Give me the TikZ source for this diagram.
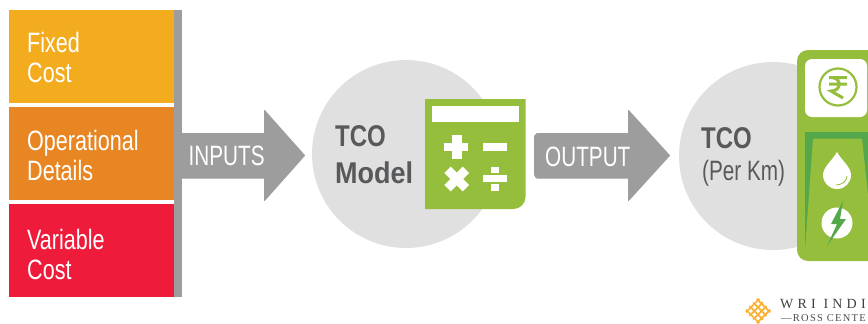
\documentclass[tikz,border=0pt]{standalone}
\usepackage{fontspec}
\setmainfont{Liberation Sans}
\newfontfamily\condf[FakeStretch=0.77]{Liberation Sans}
\newfontfamily\capsf[FakeStretch=0.74]{Liberation Sans}
\newfontfamily\boldf[FakeStretch=0.8]{Liberation Sans Bold}
\newfontfamily\boldwidef[FakeStretch=0.9]{Liberation Sans Bold}
\newfontfamily\logof[LetterSpace=30]{Liberation Serif}
\newfontfamily\logosubf[LetterSpace=12]{Liberation Serif}
\definecolor{fixc}{HTML}{F2AC1D}
\definecolor{opc}{HTML}{E88623}
\definecolor{varc}{HTML}{EE1B3B}
\definecolor{barc}{HTML}{9D9D9D}
\definecolor{circc}{HTML}{E0E0E0}
\definecolor{greenc}{HTML}{95BE3D}
\definecolor{dgreenc}{HTML}{54A84B}
\definecolor{txtc}{HTML}{58595B}
\definecolor{logoc}{HTML}{F9B233}
\tikzset{
  lab/.style={anchor=base west,inner sep=0pt,text=white,font=\condf\fontsize{28}{30}\selectfont},
  caplab/.style={anchor=base west,inner sep=0pt,text=white,font=\capsf\fontsize{28}{30}\selectfont},
  dark/.style={anchor=base west,inner sep=0pt,text=txtc,font=\boldf\fontsize{30}{32}\selectfont},
  darkwide/.style={anchor=base west,inner sep=0pt,text=txtc,font=\boldwidef\fontsize{30}{32}\selectfont},
  darkreg/.style={anchor=base west,inner sep=0pt,text=txtc,font=\capsf\fontsize{28}{30}\selectfont},
  blockarrow/.style={fill=barc,draw=barc,line width=1pt,line join=round},
  sym/.style={fill=white,draw=none},
  logoline/.style={draw=logoc,line width=1.7pt}
}
\begin{document}
\begin{tikzpicture}[x=1pt,y=-1pt]
\useasboundingbox (0,0) rectangle (868,324);
% left boxes
\fill[fixc] (8.5,10) rectangle (174,103);
\fill[opc] (8.5,107) rectangle (174,200);
\fill[varc] (8.5,204) rectangle (174,297);
\fill[barc] (174,10) rectangle (181.5,297);
\node[lab] (fixedA) at (27,52) {Fixed};
\node[lab] (fixedB) at (27,82) {Cost};
\node[lab] (opA) at (27,150) {Operational};
\node[lab] (opB) at (27,180) {Details};
\node[lab] (varA) at (27,249) {Variable};
\node[lab] (varB) at (27,279) {Cost};
% input arrow
\draw[blockarrow] (181.5,133.5) -- (264.5,133.5) -- (264.5,110.5) -- (304.5,155.5) -- (264.5,200.5) -- (264.5,178) -- (181.5,178) -- cycle;
\node[caplab] (inputs) at (188.5,165) {INPUTS};
% model circle
\fill[circc] (406,154) circle (94);
\fill[greenc] (425,99) -- (525.5,99) -- (525.5,197) arc[start angle=0,end angle=90,radius=12] -- (425,209) -- cycle;
\fill[white] (432,105.5) rectangle (518.5,122);
\fill[sym] (444,142.7) rectangle (468,150.7);
\fill[sym] (452,135) rectangle (461.5,158.7);
\fill[sym] (483,143) rectangle (506.5,150.5);
\begin{scope}[shift={(456.7,179)},rotate=45]
\fill[sym] (-13,-4.5) rectangle (13,4.5);
\fill[sym] (-4.5,-13) rectangle (4.5,13);
\end{scope}
\fill[sym] (483,175) rectangle (506.5,182);
\fill[sym] (491,166.5) rectangle (499,173);
\fill[sym] (491,184) rectangle (499,191);
\node[dark] (tcoA) at (335,146) {TCO};
\node[darkwide] (model) at (335,183) {Model};
% output arrow
\draw[blockarrow] (537,133.5) -- (628.5,133.5) -- (628.5,110.5) -- (669.5,155.5) -- (628.5,200.5) -- (628.5,178) -- (537,178) to[out=180,in=90] (534.5,175) -- (534.5,136) to[out=-90,in=180] cycle;
\node[caplab] (output) at (545,166) {OUTPUT};
% result circle
\fill[circc] (773,156) circle (94);
\node[dark] (tcoB) at (701,148) {TCO};
\node[darkreg] (perkm) at (702,180) {(Per Km)};
% pump
\begin{scope}
\clip (0,0) rectangle (868,324);
\fill[greenc,rounded corners=11pt] (797,50) rectangle (890,261);
\fill[white,rounded corners=7pt] (805,59) rectangle (867,117);
\fill[dgreenc] (805,132) rectangle (868,250);
\fill[greenc] (813,138.5) -- (862,138.5) -- (868,195) -- (868,250) -- (805,250) -- cycle;
\draw[greenc,line width=2.2pt] (838,87) circle (18.5);
\draw[greenc,line width=3pt,line join=miter] (829,77.5) -- (847,77.5) (829,84) -- (847,84) (831,77.5) .. controls (842,77.5) and (842,91) .. (831,91) -- (843,98);
% drop
\fill[white] (837,152) .. controls (832,161) and (823,167) .. (823,175) arc[start angle=180,end angle=0,radius=14] .. controls (851,167) and (842,161) .. (837,152) -- cycle;
\draw[greenc,line width=.8pt] (847,176) .. controls (847,181) and (842,185) .. (836,185);
% electricity
\fill[white] (837,223) circle (15.5);
\fill[dgreenc] (843,201) -- (831,224) -- (837,224) -- (827,246) -- (846,219) -- (840,219) -- cycle;
\end{scope}
% logo
\begin{scope}[shift={(758,311)}]
\clip (0,-13.5) -- (13.5,0) -- (0,13.5) -- (-13.5,0) -- cycle;
\foreach \d in {-5.4,-1.8,1.8,5.4}{
  \draw[logoline] (-14+\d,-14-\d) -- (14+\d,14-\d);
  \draw[logoline] (-14+\d,14+\d) -- (14+\d,-14+\d);
}
\end{scope}
\node[anchor=base west,inner sep=0pt,text=black!75,font=\logof\fontsize{14}{14}\selectfont] (wri) at (780,308.5) {WRI INDI};
\node[anchor=base west,inner sep=0pt,text=black!70,font=\logosubf\fontsize{10.5}{11}\selectfont] (ross) at (781,321) {—ROSS CENTE};
\end{tikzpicture}
\end{document}
